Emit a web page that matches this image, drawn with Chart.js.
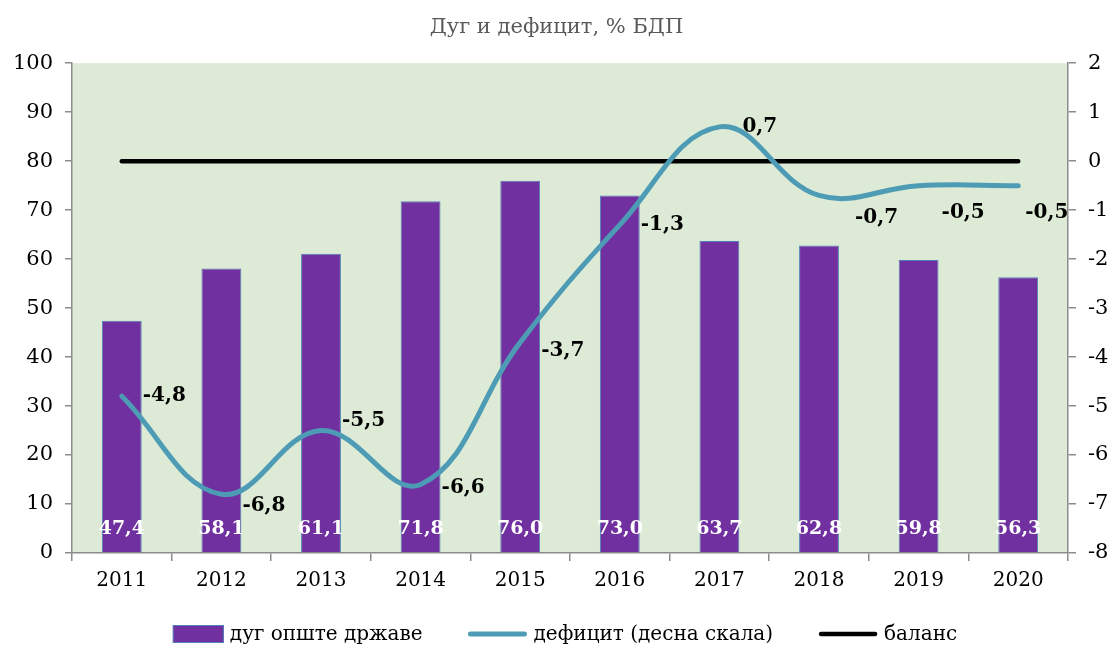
<!DOCTYPE html>
<html>
<head>
<meta charset="utf-8">
<script src="https://cdn.jsdelivr.net/npm/chart.js@4.4.1/dist/chart.umd.min.js"></script>
<style>
  html, body { margin: 0; padding: 0; background: #fff; }
</style>
</head>
<body>
<canvas id="debtChart" width="1113" height="648"></canvas>
<script>
const years = ["2011", "2012", "2013", "2014", "2015", "2016", "2017", "2018", "2019", "2020"];
const debt = [47.4, 58.1, 61.1, 71.8, 76.0, 73.0, 63.7, 62.8, 59.8, 56.3];
const deficit = [-4.8, -6.8, -5.5, -6.6, -3.7, -1.3, 0.7, -0.7, -0.5, -0.5];
const balance = [0, 0, 0, 0, 0, 0, 0, 0, 0, 0];
const leftTicks = [0, 10, 20, 30, 40, 50, 60, 70, 80, 90, 100];
const rightTicks = [-8, -7, -6, -5, -4, -3, -2, -1, 0, 1, 2];

const FONT = "'DejaVu Serif', 'Liberation Serif', serif";
const fmt = v => v.toFixed(1).replace('.', ',');

// zelena pozadina samo iza plot-a
const plotBg = {
  id: 'plotBg',
  beforeDraw(chart) {
    const { ctx, chartArea: a } = chart;
    ctx.save();
    ctx.fillStyle = '#fff';
    ctx.fillRect(0, 0, chart.width, chart.height);
    ctx.fillStyle = '#DDEBD6';
    ctx.fillRect(a.left, a.top, a.right - a.left, a.bottom - a.top);
    ctx.restore();
  }
};

// vrednosti na stubovima i na liniji deficita
const valueLabels = {
  id: 'valueLabels',
  afterDatasetsDraw(chart, args, opts) {
    const { ctx } = chart;
    const y0 = chart.scales.y.getPixelForValue(0);
    ctx.save();
    ctx.textBaseline = 'middle';

    ctx.font = `bold 19px ${FONT}`;
    ctx.fillStyle = '#fff';
    ctx.textAlign = 'center';
    chart.getDatasetMeta(0).data.forEach((bar, i) => {
      ctx.fillText(fmt(debt[i]), bar.x, y0 - 24);
    });

    ctx.font = `bold 20px ${FONT}`;
    ctx.fillStyle = '#000';
    ctx.textAlign = 'left';
    chart.getDatasetMeta(1).data.forEach((pt, i) => {
      const [dx, dy] = opts.nudge[i] || [0, 0];
      ctx.fillText(fmt(deficit[i]), pt.x + 21 + dx, pt.y + dy);
    });
    ctx.restore();
  }
};

// legenda kao u Excelu
const bottomLegend = {
  id: 'bottomLegend',
  afterDraw(chart) {
    const { ctx } = chart;
    const items = chart.data.datasets;
    const gap = 6, spacing = 45, y = 634;
    ctx.save();
    ctx.font = `20px ${FONT}`;
    ctx.textBaseline = 'middle';
    const sw = items.map(d => d.type === 'bar' ? 51 : 60);
    const widths = items.map((d, i) => sw[i] + gap + ctx.measureText(d.label).width);
    const total = widths.reduce((s, w) => s + w, 0) + spacing * (items.length - 1);
    const a = chart.chartArea;
    let x = (a.left + a.right) / 2 - 5 - total / 2;
    items.forEach((d, i) => {
      if (d.type === 'bar') {
        ctx.fillStyle = d.backgroundColor;
        ctx.fillRect(x, y - 9, sw[i], 18);
        ctx.strokeStyle = d.borderColor;
        ctx.lineWidth = 1;
        ctx.strokeRect(x + 0.5, y - 8.5, sw[i] - 1, 17);
      } else {
        ctx.strokeStyle = d.borderColor;
        ctx.lineWidth = d.borderWidth;
        ctx.lineCap = 'round';
        ctx.beginPath();
        ctx.moveTo(x + 3, y);
        ctx.lineTo(x + sw[i] - 3, y);
        ctx.stroke();
      }
      ctx.fillStyle = '#000';
      ctx.fillText(d.label, x + sw[i] + gap, y + 1);
      x += widths[i] + spacing;
    });
    ctx.restore();
  }
};

const axisGrey = '#8C8C8C';

new Chart(document.getElementById('debtChart'), {
  data: {
    labels: years,
    datasets: [
      {
        type: 'bar',
        label: 'дуг опште државе',
        data: debt,
        yAxisID: 'y',
        backgroundColor: '#7030A0',
        borderColor: '#4F7FB8',
        borderWidth: 1,
        barPercentage: 0.4,
        categoryPercentage: 1.0,
        order: 3
      },
      {
        type: 'line',
        label: 'дефицит (десна скала)',
        data: deficit,
        yAxisID: 'y1',
        borderColor: '#4E9BB5',
        borderWidth: 5,
        tension: 0.4,
        pointRadius: 0,
        borderCapStyle: 'round',
        order: 1
      },
      {
        type: 'line',
        label: 'баланс',
        data: balance,
        yAxisID: 'y1',
        borderColor: '#000',
        borderWidth: 4.5,
        pointRadius: 0,
        borderCapStyle: 'round',
        order: 2
      }
    ]
  },
  options: {
    responsive: false,
    animation: false,
    devicePixelRatio: 1,
    layout: { padding: { left: 0, right: 0, bottom: 40 } },
    plugins: {
      legend: { display: false },
      tooltip: { enabled: false },
      title: {
        display: true,
        text: 'Дуг и дефицит, % БДП',
        color: '#595959',
        font: { family: FONT, size: 21, weight: 'normal' },
        padding: { top: 15, bottom: 23 }
      },
      valueLabels: {
        nudge: [[0, 0], [0, 12], [0, -10], [0, 3], [0, 8], [0, 0], [2, 0], [15, 22], [2, 27], [-14, 27]]
      }
    },
    scales: {
      x: {
        offset: true,
        grid: { display: true, drawOnChartArea: false, offset: true, tickLength: 8, color: axisGrey, lineWidth: 1.5 },
        border: { color: axisGrey, width: 1.5 },
        ticks: { color: '#000', font: { family: FONT, size: 20 }, padding: 8 },
        afterFit(s) { s.height = 55; }
      },
      y: {
        position: 'left',
        min: leftTicks[0],
        max: leftTicks[leftTicks.length - 1],
        afterBuildTicks(s) { s.ticks = leftTicks.map(v => ({ value: v })); },
        grid: { display: true, drawOnChartArea: false, tickLength: 7, color: axisGrey, lineWidth: 1.5 },
        border: { color: axisGrey, width: 1.5 },
        ticks: { color: '#000', font: { family: FONT, size: 21 }, padding: 12 },
        afterFit(s) { s.width = 72; }
      },
      y1: {
        position: 'right',
        min: rightTicks[0],
        max: rightTicks[rightTicks.length - 1],
        afterBuildTicks(s) { s.ticks = rightTicks.map(v => ({ value: v })); },
        grid: { display: true, drawOnChartArea: false, tickLength: 8, color: axisGrey, lineWidth: 1.5 },
        border: { color: axisGrey, width: 1.5 },
        ticks: { color: '#000', font: { family: FONT, size: 21 }, padding: 12 },
        afterFit(s) { s.width = 45; }
      }
    }
  },
  plugins: [plotBg, valueLabels, bottomLegend]
});
</script>
</body>
</html>
